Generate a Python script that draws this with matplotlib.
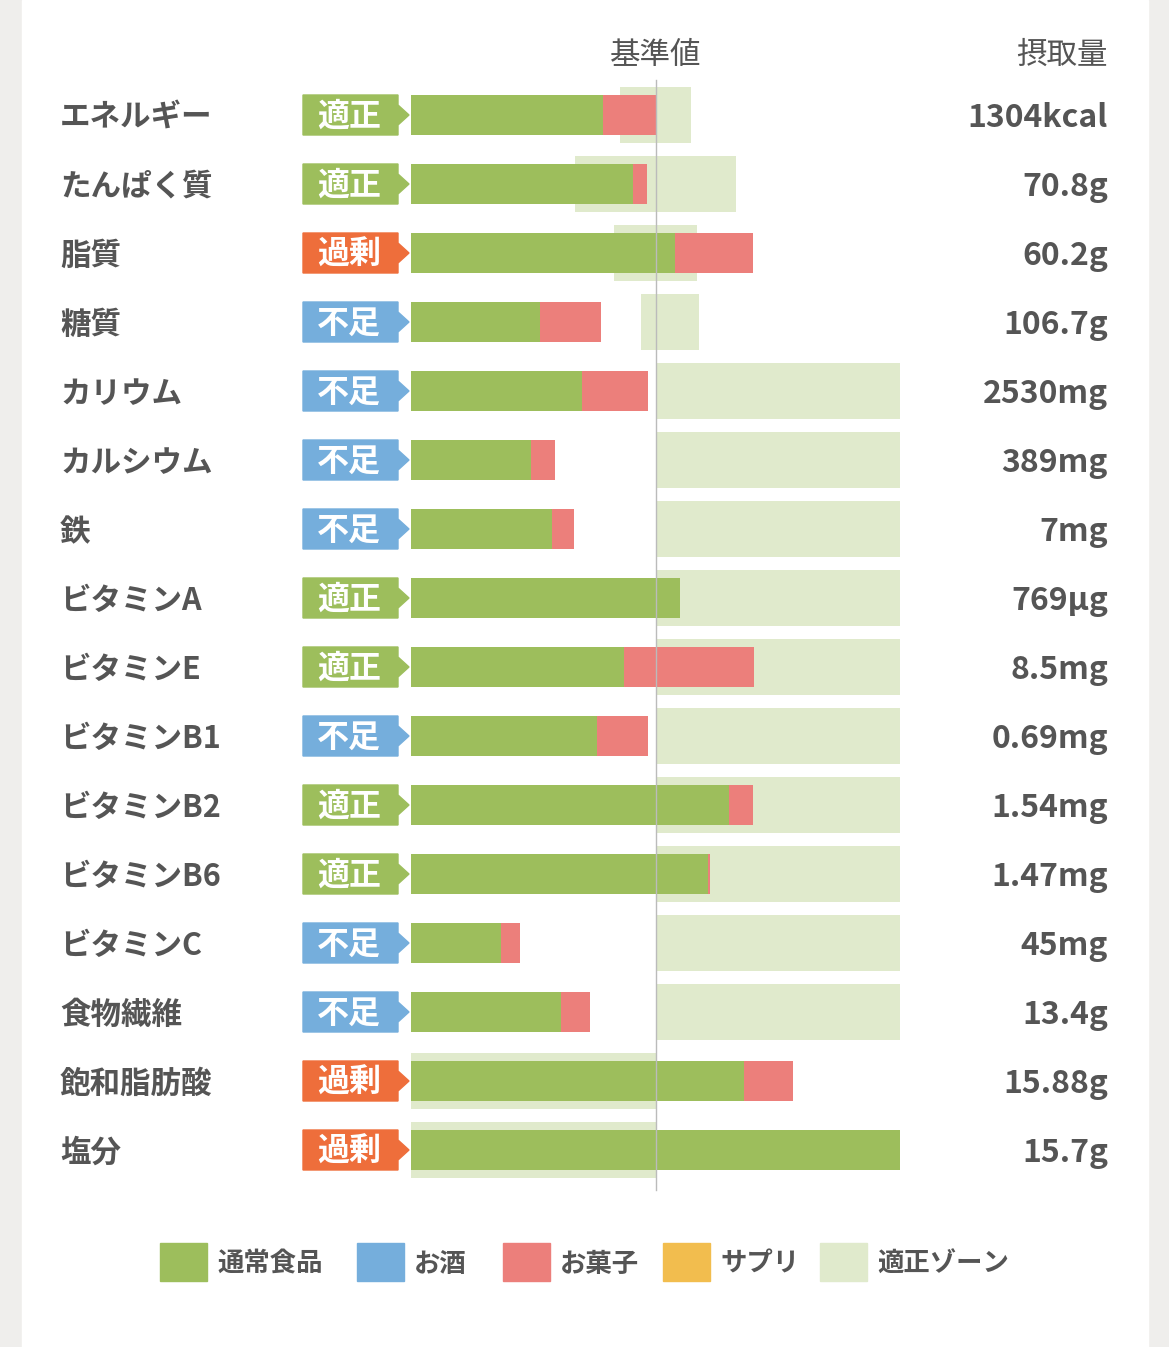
import numpy as np
import matplotlib.pyplot as plt
from matplotlib.patches import Polygon, Rectangle

plt.rcParams['font.family'] = ['Noto Sans CJK JP', 'DejaVu Sans']

# data (percent of reference value)
nutrients = ['エネルギー', 'たんぱく質', '脂質', '糖質', 'カリウム', 'カルシウム', '鉄',
             'ビタミンA', 'ビタミンE', 'ビタミンB1', 'ビタミンB2', 'ビタミンB6',
             'ビタミンC', '食物繊維', '飽和脂肪酸', '塩分']
status = ['適正', '適正', '過剰', '不足', '不足', '不足', '不足', '適正', '適正',
          '不足', '適正', '適正', '不足', '不足', '過剰', '過剰']
food = [78.4, 90.6, 107.8, 52.7, 69.8, 49.0, 57.6, 109.8, 86.9, 75.9, 129.8,
        121.2, 36.7, 61.2, 135.9, 199.6]
snack = [21.6, 5.7, 31.8, 24.9, 26.9, 9.8, 8.9, 0.0, 53.1, 20.8, 9.8, 0.8,
         7.8, 11.9, 20.0, 0.0]
zone_lo = [85.3, 66.9, 82.9, 93.9, 100, 100, 100, 100, 100, 100, 100, 100, 100, 100, 0, 0]
zone_hi = [114.3, 132.7, 116.7, 117.6, 199.6, 199.6, 199.6, 199.6, 199.6, 199.6,
           199.6, 199.6, 199.6, 199.6, 100, 100]
amounts = ['1304kcal', '70.8g', '60.2g', '106.7g', '2530mg', '389mg', '7mg', '769μg',
           '8.5mg', '0.69mg', '1.54mg', '1.47mg', '45mg', '13.4g', '15.88g', '15.7g']
legend_names = ['通常食品', 'お酒', 'お菓子', 'サプリ', '適正ゾーン']

GREEN, RED, BLUE, YEL, ZONE = '#9dbe5c', '#ec7f7b', '#75aedc', '#f2bd4e', '#e0eacc'
badge_col = {'適正': GREEN, '過剰': '#ee6e3b', '不足': BLUE}
TXT = '#555555'

W, H = 1169, 1347
fig = plt.figure(figsize=(W / 100, H / 100), dpi=100)
fig.patch.set_facecolor('#efeeec')
ax = fig.add_axes([0, 0, 1, 1])
S = 2.45  # px per percent
px = lambda p: (p - 411) / S
ax.set_xlim(px(0), px(W))
ax.set_ylim(H, 0)
ax.axis('off')

ax.add_patch(Rectangle((px(22), 0), (1148 - 22) / S, H, color='white', zorder=0))

y = 115 + 69 * np.arange(len(nutrients))
ax.barh(y, np.array(zone_hi) - np.array(zone_lo), left=zone_lo, height=56, color=ZONE, zorder=1)
ax.barh(y, food, height=40, color=GREEN, zorder=2)
ax.barh(y, snack, left=food, height=40, color=RED, zorder=2)
ax.plot([100, 100], [80, 1190], color='#bbbbbb', lw=1, zorder=3)

for yi, name, st, amt in zip(y, nutrients, status, amounts):
    ax.text(px(60), yi + 3, name, fontsize=22, color=TXT, va='center', ha='left', fontweight='bold')
    ax.text(px(1108), yi + 3, amt, fontsize=23, color=TXT, va='center', ha='right', fontweight='bold')
    pts = [(px(303), yi - 20), (px(398), yi - 20), (px(398), yi - 10), (px(409), yi),
           (px(398), yi + 10), (px(398), yi + 20), (px(303), yi + 20)]
    ax.add_patch(Polygon(pts, closed=True, color=badge_col[st], zorder=2))
    ax.text(px(349), yi + 2, st, fontsize=23, color='white', va='center', ha='center', fontweight='bold')

ax.text(px(656), 55, '基準値', fontsize=22, color=TXT, va='center', ha='center')
ax.text(px(1108), 55, '摂取量', fontsize=22, color=TXT, va='center', ha='right')

leg_x = [160, 357, 503, 663, 820]
for lx, name, c in zip(leg_x, legend_names, [GREEN, BLUE, RED, YEL, ZONE]):
    ax.add_patch(Rectangle((px(lx), 1243), 47 / S, 38, color=c))
    ax.text(px(lx + 57), 1264, name, fontsize=19, color=TXT, va='center', ha='left', fontweight='bold')

fig.savefig('out.png', dpi=100)
